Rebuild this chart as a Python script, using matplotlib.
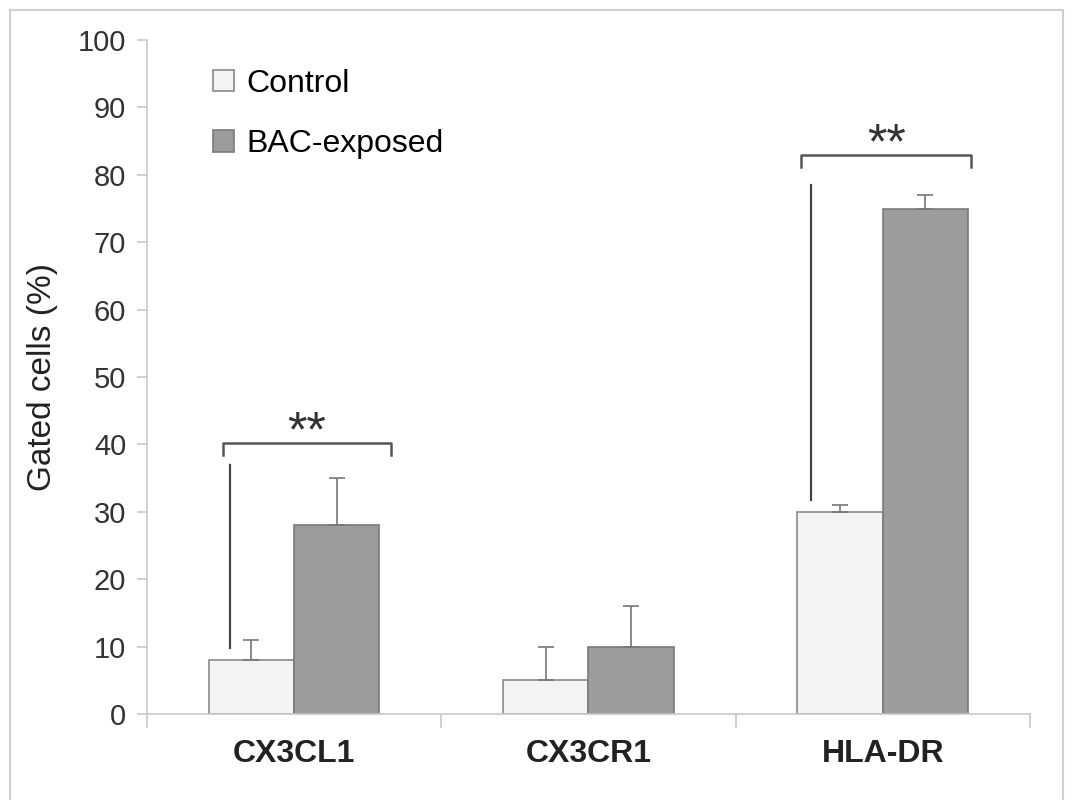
import matplotlib.pyplot as plt
import matplotlib.patches as mpatches
import numpy as np

plt.rcParams['font.family'] = ['Liberation Sans', 'DejaVu Sans']

categories = ['CX3CL1', 'CX3CR1', 'HLA-DR']
control = [8, 5, 30]
control_err = [3, 5, 1]
bac = [28, 10, 75]
bac_err = [7, 6, 2]

x = np.arange(len(categories)) + 0.5
w = 0.29

fig = plt.figure(figsize=(10.76, 8.0), dpi=100)
ax = fig.add_axes([0.1366, 0.1075, 0.8205, 0.8425])

# frame around the whole picture
fig.patches.append(mpatches.Rectangle((10 / 1076, -0.01), 1053 / 1076, 1 - 10 / 800 + 0.01,
                                      transform=fig.transFigure, fill=False,
                                      edgecolor='#d0d0d0', linewidth=1.5))

ax.bar(x - w / 2, control, w, color='#f3f3f3', edgecolor='#8a8a8a', linewidth=1.2,
       label='Control', zorder=2)
ax.bar(x + w / 2, bac, w, color='#9c9c9c', edgecolor='#7a7a7a', linewidth=1.2,
       label='BAC-exposed', zorder=2)
ax.errorbar(x - w / 2, control, yerr=[[0] * 3, control_err], fmt='none', ecolor='#777777',
            elinewidth=1.2, capsize=6, capthick=1.2, zorder=3)
ax.errorbar(x + w / 2, bac, yerr=[[0] * 3, bac_err], fmt='none', ecolor='#777777',
            elinewidth=1.2, capsize=6, capthick=1.2, zorder=3)

# significance brackets
def bracket(x0, x1, y, drop, label):
    ax.plot([x0, x0, x1, x1], [y - drop, y, y, y - drop], color='#555555', lw=1.8)
    ax.text((x0 + x1) / 2, y - 0.5, label, ha='center', va='baseline', fontsize=36,
            color='#333333')

bracket(0.258, 0.83, 40.2, 1.8, '**')
ax.plot([0.281, 0.281], [9.8, 36.9], color='#444444', lw=1.6)
bracket(2.224, 2.80, 83.0, 1.8, '**')
ax.plot([2.258, 2.258], [31.8, 78.5], color='#444444', lw=1.6)

ax.set_xlim(0, 3)
ax.set_ylim(0, 100)
ax.set_yticks(np.arange(0, 101, 10))
ax.set_xticks([0, 1, 2, 3])
ax.set_xticklabels([])
ax.set_xticks(x, minor=True)
ax.set_xticklabels(categories, minor=True, fontsize=23, fontweight='bold', color='#222222')
ax.tick_params(axis='x', which='minor', length=0, pad=18)
ax.tick_params(axis='x', which='major', length=10, color='#c8c8c8', width=1.2)
ax.tick_params(axis='y', length=7, color='#c8c8c8', width=1.2, labelsize=21,
               labelcolor='#333333', pad=8)

for s in ['top', 'right']:
    ax.spines[s].set_visible(False)
for s in ['left', 'bottom']:
    ax.spines[s].set_color('#c8c8c8')
    ax.spines[s].set_linewidth(1.2)

ax.set_ylabel('Gated cells (%)', fontsize=24, color='#222222', labelpad=14)

ax.legend(loc='upper left', bbox_to_anchor=(0.042, 1.0), frameon=False, fontsize=23,
          handlelength=0.65, handleheight=0.65, handletextpad=0.4, labelspacing=0.95)

fig.savefig('out.png', dpi=100)
